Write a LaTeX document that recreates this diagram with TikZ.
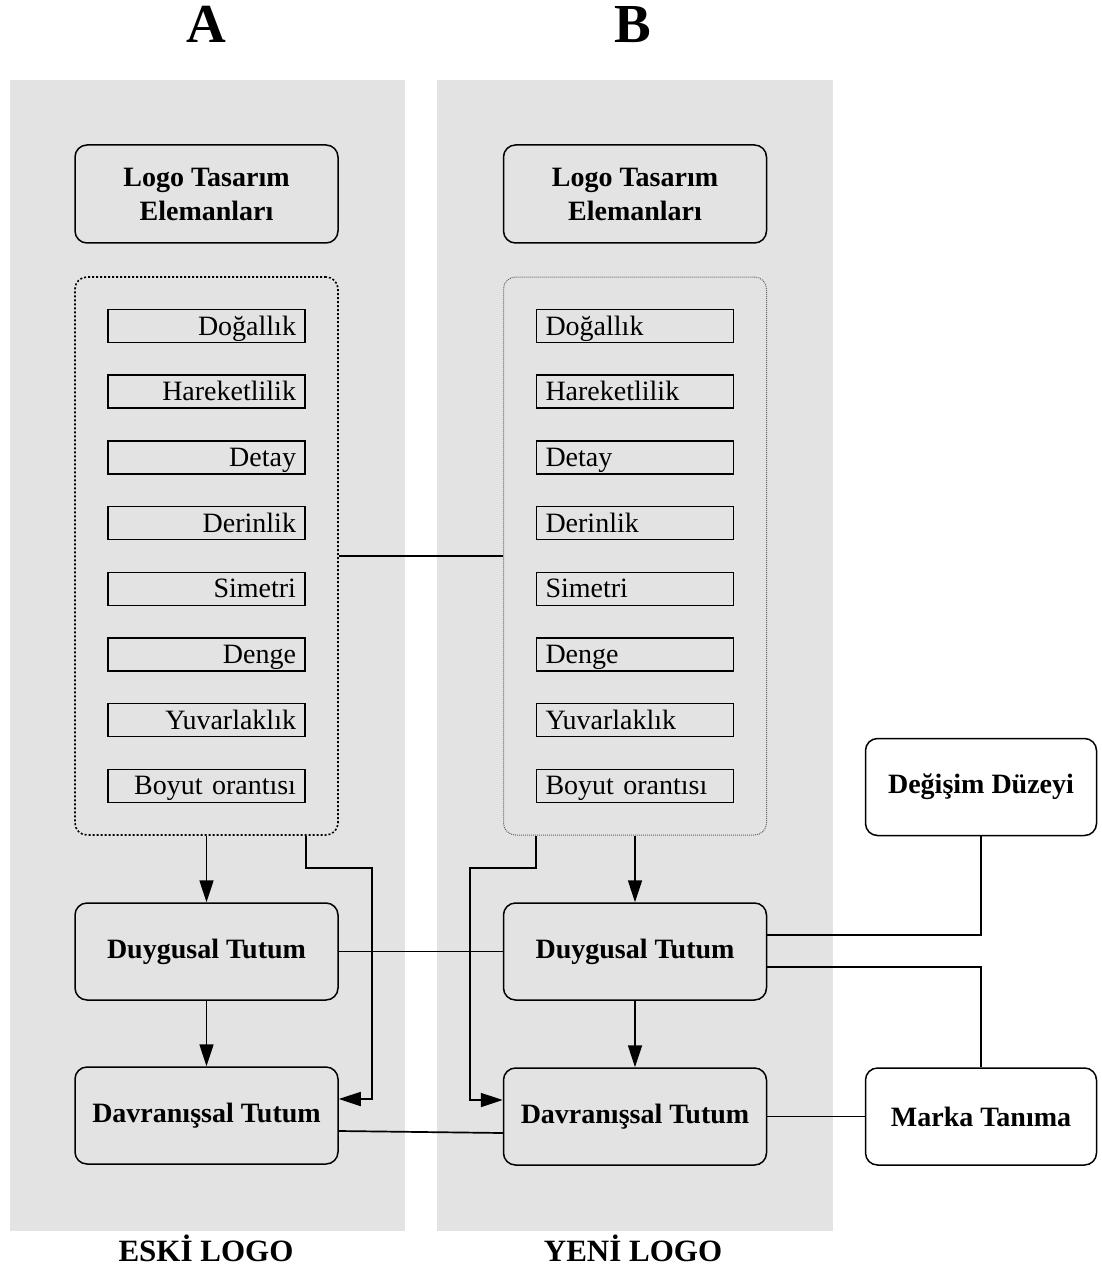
\documentclass[tikz,border=0pt]{standalone}
\usepackage{fontspec}
\setmainfont{Liberation Serif}
\usetikzlibrary{arrows.meta,calc}
\definecolor{panelgray}{HTML}{E3E3E3}
\tikzset{
  rbox/.style={draw=black, line width=1.5pt, rounded corners=12pt, fill=panelgray,
    minimum width=263pt, minimum height=97pt, inner sep=0pt, align=center,
    font=\fontsize{28}{34}\selectfont\bfseries},
  wbox/.style={rbox, fill=white, minimum width=231pt},
  dotbox/.style={draw=black, line width=1.6pt, dash pattern=on 2pt off 2pt, rounded corners=12pt,
    minimum width=263pt, minimum height=558pt, inner sep=0pt},
  dotboxb/.style={draw=black!60, line width=1pt, dash pattern=on 1pt off 1pt, rounded corners=12pt,
    minimum width=263pt, minimum height=558pt, inner sep=0pt},
  itembox/.style={draw=black, line width=1.5pt, fill=panelgray, minimum height=33pt,
    text width=179pt, text height=21pt, text depth=3pt, inner xsep=9pt, inner ysep=0pt,
    font=\fontsize{28}{30}\selectfont},
  itemr/.style={itembox, align=right},
  iteml/.style={itembox, align=left},
  conn/.style={draw=black, line width=1.7pt},
  arr/.style={conn, -{Triangle[length=22pt,width=14pt]}},
  title/.style={font=\fontsize{55}{60}\selectfont\bfseries, anchor=base, inner sep=0pt},
  foot/.style={font=\fontsize{31}{34}\selectfont\bfseries, anchor=base, inner sep=0pt}
}
\begin{document}
\begin{tikzpicture}[x=1pt,y=-1pt]
\useasboundingbox (0,0) rectangle (1101,1273);
\fill[white] (0,0) rectangle (1101,1273);
% panels
\fill[panelgray] (10,80) rectangle (405,1231);
\fill[panelgray] (437,80) rectangle (833,1231);
% titles
\node[title] (tA) at (206,43) {A};
\node[title] (tB) at (633,43) {B};
\node[foot] (fA) at (206,1261) {ESKİ LOGO};
\node[foot] (fB) at (633,1261) {YENİ LOGO};
% logo boxes
\node[rbox, minimum height=98pt] (logoA) at (206.5,194) {Logo Tasarım\\Elemanları};
\node[rbox, minimum height=98pt] (logoB) at (635,194) {Logo Tasarım\\Elemanları};
% dotted boxes
\node[dotbox] (dotA) at (206.5,556) {};
\node[dotboxb] (dotB) at (635,556) {};
% items
\foreach \t [count=\i] in {Doğallık,Hareketlilik,Detay,Derinlik,Simetri,Denge,Yuvarlaklık,Boyut orantısı}{
  \node[itemr] (itemA\i) at (206.5,{326+65.7*(\i-1)}) {\t};
  \node[iteml] (itemB\i) at (635,{326+65.7*(\i-1)}) {\t};
}
% attitude boxes
\node[rbox] (duyA) at (206.5,951.5) {Duygusal Tutum};
\node[rbox] (duyB) at (635,951.5) {Duygusal Tutum};
\node[rbox] (davA) at (206.5,1115.5) {Davranışsal Tutum};
\node[rbox] (davB) at (635,1116.5) {Davranışsal Tutum};
% right boxes
\node[wbox] (deg) at (981,787) {Değişim Düzeyi};
\node[wbox] (marka) at (981,1116.5) {Marka Tanıma};
% connectors
\coordinate (ca) at (372,868);
\coordinate (cb) at (470,868);
\draw[conn] (dotA.east) -- (dotB.west);
\draw[arr] (dotA.south) -- (duyA.north);
\draw[arr] (duyA.south) -- (davA.north);
\draw[arr] (dotB.south) -- (duyB.north);
\draw[arr] (duyB.south) -- (davB.north);
\draw[arr] (itemA8.east |- dotA.south) |- (ca) |- ([yshift=16.5pt]davA.east);
\draw[arr] (itemB8.west |- dotB.south) |- (cb) |- ([yshift=16.5pt]davB.west);
\draw[conn] (duyA.east) -- (duyB.west);
\draw[conn] ([yshift=-15.5pt]davA.east) -- ([yshift=-16.5pt]davB.west);
\draw[conn] (deg.south) |- ([yshift=16.5pt]duyB.east);
\draw[conn] ([yshift=-15.5pt]duyB.east) -| (marka.north);
\draw[conn] (davB.east) -- (marka.west);
\end{tikzpicture}
\end{document}
